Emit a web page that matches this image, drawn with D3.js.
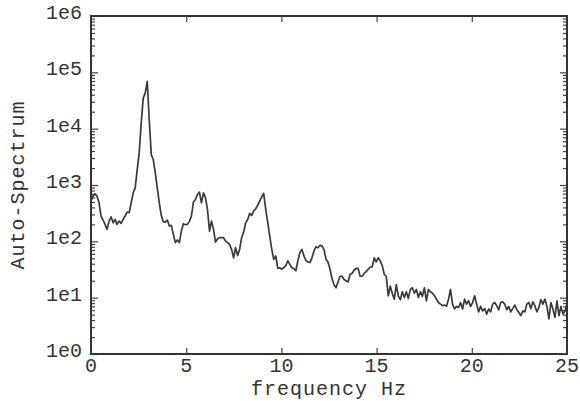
<!DOCTYPE html>
<html>
<head>
<meta charset="utf-8">
<script src="https://cdn.jsdelivr.net/npm/d3@7"></script>
<style>
  body { margin: 0; background: #fff; }
  text { font-family: "Liberation Mono", "DejaVu Sans Mono", monospace; fill: #333; }
</style>
</head>
<body>
<div id="graphs"></div>
<script>
// spectrum bins, 0 .. 25 Hz
var fMin = 0, fMax = 25;
var spectrum = [
  517, 634, 698, 634, 483, 281, 239, 200, 163, 229,
  273, 214, 245, 200, 229, 208, 245, 281, 331, 322,
  483, 727, 891, 1880, 3710, 12600, 34900, 42800, 68900, 14400,
  3470, 2830, 1640, 891, 483, 289, 223, 220, 239, 187,
  192, 133, 95, 106, 95, 152, 206, 197, 200, 226,
  281, 497, 554, 679, 747, 483, 727, 593, 368, 152,
  229, 163, 97, 111, 116, 116, 116, 101, 95, 88,
  72, 51, 77, 56, 72, 116, 146, 214, 245, 313,
  289, 344, 379, 434, 517, 617, 707, 368, 214, 124,
  72, 48, 55, 33, 34, 32, 34, 37, 45, 39,
  34, 33, 30, 45, 63, 72, 55, 46, 43, 42,
  51, 67, 80, 77, 85, 83, 72, 48, 43, 32,
  22, 17, 15, 19, 24, 24, 21, 20, 19, 26,
  27, 31, 33, 33, 24, 24, 27, 29, 32, 35,
  35, 51, 43, 51, 45, 37, 26, 24, 10.8, 16,
  12, 9.4, 17, 10.8, 9.2, 12.7, 10.1, 12.7, 9.7, 14,
  15, 12, 14, 10.1, 12.7, 10.5, 15, 8.8, 14, 12.7,
  12, 10.8, 9.4, 8.2, 7.7, 7.2, 7.4, 7.0, 9.4, 14,
  7.7, 6.3, 7.0, 6.7, 8.2, 6.3, 9.4, 7.7, 8.8, 7.0,
  8.2, 10.8, 7.7, 5.6, 7.0, 5.8, 6.4, 5.1, 6.3, 5.6,
  7.7, 8.2, 7.2, 6.1, 8.2, 8.4, 7.7, 6.1, 7.0, 5.6,
  6.4, 7.4, 6.1, 5.5, 4.8, 5.8, 5.6, 7.7, 8.2, 6.4,
  8.4, 7.2, 5.6, 6.7, 9.2, 7.7, 9.4, 7.0, 4.2, 8.2,
  6.3, 4.5, 8.8, 4.8, 7.0, 5.1, 5.8, 7.7
];
var xTicks = [0, 5, 10, 15, 20, 25];
var yTicks = [1e0, 1e1, 1e2, 1e3, 1e4, 1e5, 1e6];
var yTickLabels = ["1e0", "1e1", "1e2", "1e3", "1e4", "1e5", "1e6"];

var data = spectrum.map(function(v, i) {
  return { freq: fMin + i * (fMax - fMin) / (spectrum.length - 1), value: v };
});

var margin = {top: 16, right: 13, bottom: 47, left: 91},
    width = 580 - margin.left - margin.right,
    height = 401 - margin.top - margin.bottom;

var x = d3.scaleLinear().domain([fMin, fMax]).range([0, width]);
var y = d3.scaleLog().domain([1, 1e6]).range([height, 0]);

var svg = d3.select("#graphs").append("svg")
    .attr("width", 580)
    .attr("height", 401)
  .append("g")
    .attr("transform", "translate(" + margin.left + "," + margin.top + ")");

// minor log ticks
var minor = [];
for (var d = 0; d < 6; d++) {
  for (var m = 2; m < 10; m++) minor.push(m * Math.pow(10, d));
}

function styleAxis(g) {
  g.select(".domain").remove();
  g.selectAll("line").attr("stroke", "#444").attr("stroke-width", 1.2);
}

// left axis (ticks inward)
svg.append("g")
    .call(d3.axisRight(y).tickValues(yTicks).tickSize(7).tickFormat(""))
    .call(styleAxis);
svg.append("g")
    .call(d3.axisRight(y).tickValues(minor).tickSize(4).tickFormat(""))
    .call(styleAxis);
// right axis
svg.append("g")
    .attr("transform", "translate(" + width + ",0)")
    .call(d3.axisLeft(y).tickValues(yTicks).tickSize(7).tickFormat(""))
    .call(styleAxis);
svg.append("g")
    .attr("transform", "translate(" + width + ",0)")
    .call(d3.axisLeft(y).tickValues(minor).tickSize(4).tickFormat(""))
    .call(styleAxis);
// bottom and top ticks
svg.append("g")
    .attr("transform", "translate(0," + height + ")")
    .call(d3.axisTop(x).tickValues(xTicks.slice(1, -1)).tickSize(6).tickFormat(""))
    .call(styleAxis);
svg.append("g")
    .call(d3.axisBottom(x).tickValues(xTicks.slice(1, -1)).tickSize(6).tickFormat(""))
    .call(styleAxis);

// tick labels
svg.selectAll(".ylab")
    .data(yTicks)
  .enter().append("text")
    .attr("class", "ylab")
    .attr("x", -9)
    .attr("y", function(d) { return y(d) + 3; })
    .style("text-anchor", "end")
    .style("font-size", "20px")
    .text(function(d, i) { return yTickLabels[i]; });

svg.selectAll(".xlab")
    .data(xTicks)
  .enter().append("text")
    .attr("class", "xlab")
    .attr("x", function(d) { return x(d); })
    .attr("y", height + 18)
    .style("text-anchor", "middle")
    .style("font-size", "20px")
    .text(function(d) { return d; });

// frame
svg.append("rect")
    .attr("width", width)
    .attr("height", height)
    .attr("fill", "none")
    .attr("stroke", "#333")
    .attr("stroke-width", 2);

// curve
var line = d3.line()
    .x(function(d) { return x(d.freq); })
    .y(function(d) { return y(d.value); });

svg.append("path")
    .datum(data)
    .attr("fill", "none")
    .attr("stroke", "#3a3a3a")
    .attr("stroke-width", 1.7)
    .attr("stroke-linejoin", "round")
    .attr("d", line);

// axis titles
svg.append("text")
    .attr("x", width / 2)
    .attr("y", height + 41)
    .style("text-anchor", "middle")
    .style("font-size", "20px")
    .style("letter-spacing", "1px")
    .text("frequency Hz");

svg.append("text")
    .attr("transform", "translate(" + (24 - margin.left) + "," + (height / 2) + ") rotate(-90)")
    .style("text-anchor", "middle")
    .style("font-size", "20px")
    .style("letter-spacing", "1px")
    .text("Auto-Spectrum");
</script>
</body>
</html>
